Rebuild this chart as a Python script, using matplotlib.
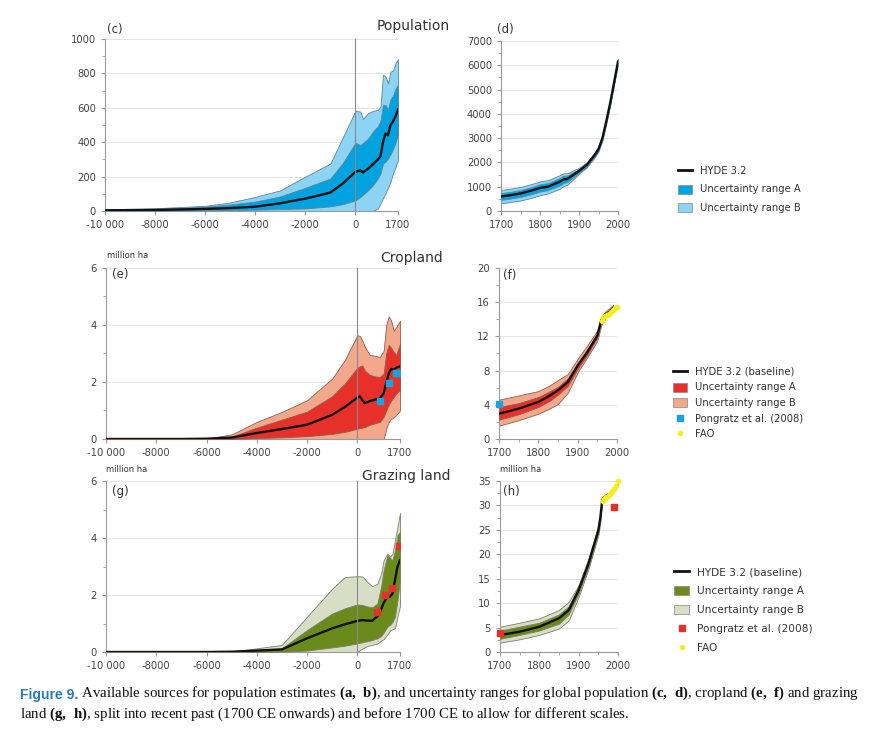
import matplotlib
matplotlib.use("Agg")
import matplotlib.pyplot as plt
from matplotlib.lines import Line2D
from matplotlib.patches import Patch
from matplotlib.ticker import MultipleLocator, FixedLocator

plt.rcParams['font.family'] = ['DejaVu Sans']
plt.rcParams['mathtext.fontset'] = 'custom'
plt.rcParams['mathtext.rm'] = 'Liberation Serif'
plt.rcParams['mathtext.bf'] = 'Liberation Serif:bold'

# ---- population, before 1700 (c) ----
yrs_c = [-10000, -8000, -6000, -5000, -4000, -3000, -2000, -1000, -500, 0, 200, 300,
         500, 700, 900, 1000, 1100, 1200, 1300, 1400, 1500, 1600, 1700]
pop_mid = [4, 6, 12, 17, 25, 45, 72, 107, 160, 228, 237, 224,
           245, 272, 300, 318, 400, 450, 440, 500, 520, 550, 590]
pop_a_lo = [1, 2, 4, 5, 8, 11, 15, 27, 40, 62, 82, 95,
            120, 150, 190, 218, 276, 286, 305, 330, 360, 395, 450]
pop_a_hi = [8, 12, 25, 38, 55, 85, 135, 189, 280, 397, 383, 395,
            420, 461, 494, 525, 617, 617, 590, 650, 670, 710, 735]
pop_b_lo = [0, 0, 0, 0, 0, 0, 0, 0, 0, 0, 0, 0,
            0, 0, 15, 43, 75, 101, 135, 170, 218, 257, 296]
pop_b_hi = [10, 16, 30, 50, 82, 120, 200, 276, 430, 582, 578, 535,
            568, 582, 588, 607, 792, 782, 743, 811, 815, 860, 883]

# ---- population, 1700 onwards (d) ----
yrs_d = [1700, 1720, 1750, 1780, 1800, 1820, 1850, 1860, 1870, 1900, 1920, 1940,
         1950, 1960, 1970, 1980, 1990, 2000]
popr_mid = [600, 640, 720, 850, 950, 1000, 1200, 1300, 1320, 1650, 1900, 2300,
            2550, 3000, 3700, 4450, 5300, 6150]
popr_a_lo = [460, 500, 580, 700, 800, 860, 1050, 1150, 1190, 1580, 1840, 2240,
             2490, 2940, 3640, 4390, 5240, 6090]
popr_a_hi = [740, 780, 860, 990, 1100, 1150, 1350, 1450, 1460, 1720, 1960, 2360,
             2610, 3060, 3760, 4510, 5360, 6210]
popr_b_lo = [310, 360, 430, 550, 650, 720, 910, 1020, 1080, 1530, 1800, 2200,
             2450, 2900, 3600, 4350, 5200, 6050]
popr_b_hi = [870, 910, 990, 1120, 1220, 1270, 1470, 1550, 1550, 1780, 2010, 2410,
             2660, 3110, 3810, 4560, 5410, 6260]

# ---- cropland, before 1700 (e) ----
yrs_e = [-10000, -7000, -6000, -5000, -4000, -3000, -2000, -1000, -500, 0, 100, 200,
         300, 500, 700, 900, 1050, 1150, 1250, 1350, 1450, 1550, 1700]
crop_mid = [0, 0, 0.01, 0.05, 0.21, 0.35, 0.5, 0.85, 1.12, 1.45, 1.5, 1.36,
            1.26, 1.33, 1.38, 1.42, 1.6, 1.95, 2.3, 2.46, 2.43, 2.5, 2.55]
crop_a_lo = [0, 0, 0, 0, 0.03, 0.06, 0.1, 0.18, 0.25, 0.36, 0.38, 0.4,
             0.42, 0.5, 0.55, 0.6, 0.78, 1.0, 1.2, 1.35, 1.47, 1.6, 1.72]
crop_a_hi = [0, 0, 0.01, 0.08, 0.4, 0.68, 0.96, 1.5, 1.94, 2.5, 2.55, 2.58,
             2.4, 2.25, 2.2, 2.17, 2.3, 3.0, 3.3, 3.2, 3.05, 2.95, 3.34]
crop_b_lo = [0, 0, 0, 0, 0, 0, 0, 0, 0, 0, 0, 0,
             0, 0, 0, 0, 0, 0.35, 0.6, 0.71, 0.76, 0.84, 1.0]
crop_b_hi = [0, 0, 0.02, 0.16, 0.6, 0.95, 1.36, 2.12, 2.77, 3.64, 3.62, 3.45,
             3.23, 2.95, 2.92, 2.88, 3.1, 4.0, 4.3, 4.15, 3.8, 3.93, 4.15]
crop_pong_yr = [900, 1250, 1550, 1600]
crop_pong = [1.35, 1.95, 2.32, 2.32]

# ---- cropland, 1700 onwards (f) ----
yrs_f = [1700, 1750, 1800, 1830, 1850, 1875, 1900, 1925, 1950, 1960, 1970, 1980, 1990]
cropr_mid = [2.96, 3.55, 4.33, 5.1, 5.7, 6.67, 8.6, 10.2, 12.1, 13.9, 14.5, 14.85, 15.3]
cropr_a_lo = [2.26, 2.9, 3.74, 4.5, 5.2, 6.2, 8.2, 9.9, 11.9, 13.7, 14.3, 14.65, 15.1]
cropr_a_hi = [3.74, 4.2, 4.9, 5.6, 6.1, 7.1, 8.8, 10.5, 12.3, 14.1, 14.7, 15.05, 15.5]
cropr_b_lo = [1.56, 2.2, 2.96, 3.6, 4.1, 5.4, 7.8, 9.6, 11.5, 13.3, 14.1, 14.45, 14.9]
cropr_b_hi = [4.6, 5.1, 5.6, 6.3, 6.9, 7.6, 9.4, 11.0, 12.7, 14.3, 14.9, 15.25, 15.7]
cropr_pong_yr = [1700]
cropr_pong = [4.05]
fao_yr = [1961, 1965, 1970, 1975, 1980, 1985, 1990, 1995, 2000]
fao_crop = [13.8, 14.3, 14.4, 14.5, 14.6, 14.9, 15.1, 15.3, 15.4]

# ---- grazing land, before 1700 (g) ----
yrs_g = [-10000, -6000, -5000, -4000, -3000, -2000, -1000, -500, 0, 200, 400,
         600, 800, 950, 1050, 1200, 1300, 1400, 1500, 1600, 1700]
graz_mid = [0, 0, 0.01, 0.05, 0.09, 0.48, 0.83, 0.97, 1.09, 1.12, 1.1,
            1.1, 1.25, 1.5, 1.72, 1.94, 1.94, 2.05, 2.52, 2.99, 3.22]
graz_a_lo = [0, 0, 0, 0, 0.01, 0.05, 0.16, 0.22, 0.3, 0.34, 0.38,
             0.42, 0.48, 0.56, 0.68, 0.89, 0.95, 1.05, 1.24, 1.82, 2.52]
graz_a_hi = [0, 0, 0.01, 0.07, 0.13, 0.77, 1.35, 1.53, 1.67, 1.65, 1.6,
             1.57, 1.7, 2.3, 2.87, 3.4, 3.3, 3.22, 3.57, 4.1, 4.21]
graz_b_lo = [0, 0, 0, 0, 0, 0, 0, 0, 0, 0.12, 0.21,
             0.25, 0.3, 0.4, 0.45, 0.62, 0.75, 0.8, 0.84, 1.24, 1.62]
graz_b_hi = [0, 0, 0.01, 0.13, 0.25, 1.24, 2.22, 2.63, 2.66, 2.65, 2.46,
             2.31, 2.4, 2.75, 3.22, 3.46, 3.34, 3.45, 3.93, 4.4, 4.88]
graz_pong_yr = [800, 1100, 1400, 1670]
graz_pong = [1.39, 2.0, 2.26, 3.71]

# ---- grazing land, 1700 onwards (h) ----
yrs_h = [1700, 1750, 1800, 1850, 1875, 1900, 1925, 1950, 1955, 1960, 1970, 1980, 1990, 2000]
grazr_mid = [3.47, 4.15, 5.17, 6.9, 8.6, 12.7, 18.1, 24.9, 27.5, 31.2, 32.0, 32.4, 33.2, 34.3]
grazr_a_lo = [2.7, 3.5, 4.4, 5.8, 7.7, 12.0, 17.5, 24.4, 27.0, 30.9, 31.8, 32.2, 33.0, 34.1]
grazr_a_hi = [4.4, 5.2, 6.0, 7.7, 9.4, 13.3, 18.7, 25.4, 28.0, 31.5, 32.2, 32.6, 33.4, 34.5]
grazr_b_lo = [1.9, 2.6, 3.5, 4.8, 6.5, 11.3, 17.0, 23.9, 26.5, 30.7, 31.7, 32.1, 32.9, 34.0]
grazr_b_hi = [5.17, 6.0, 6.9, 8.6, 10.3, 13.7, 19.2, 25.9, 28.5, 31.7, 32.3, 32.7, 33.5, 34.6]
grazr_pong_yr = [1700, 1990]
grazr_pong = [3.8, 29.7]
fao_graz = [31.0, 31.3, 31.8, 32.0, 32.4, 33.0, 33.4, 34.0, 35.1]

# colours
POP = ("#00a2e0", "#8dd3f3", "#5f8598")
CROP = ("#e8302a", "#f3a88c", "#8d5e50")
GRAZ = ("#6b8a1c", "#d8dec6", "#7d7d6e")
PONG_BLUE = "#1aa3e0"
PONG_RED = "#e8302a"
FAO_YEL = "#f5ee1f"
TXT = "#444444"

W, H = 869, 731
fig = plt.figure(figsize=(W / 100, H / 100), dpi=100)


def box(l, t, r, b):
    return [l / W, 1 - b / H, (r - l) / W, (b - t) / H]


def style(ax, ymax, ymaj, ymin):
    for s in ("top", "right"):
        ax.spines[s].set_visible(False)
    for s in ("left", "bottom"):
        ax.spines[s].set_color("#9a9a9a")
        ax.spines[s].set_linewidth(0.8)
    ax.set_ylim(0, ymax)
    ax.yaxis.set_major_locator(MultipleLocator(ymaj))
    ax.yaxis.set_minor_locator(MultipleLocator(ymin))
    ax.tick_params(axis="both", which="both", colors="#9a9a9a", labelcolor=TXT,
                   labelsize=7.2, direction="out")
    ax.tick_params(which="major", length=3)
    ax.tick_params(which="minor", length=2)
    ax.grid(axis="y", which="major", color="#e4e4e4", linewidth=0.7)
    ax.set_axisbelow(True)


def bands(ax, x, b_lo, b_hi, a_lo, a_hi, mid, cols):
    ax.fill_between(x, b_lo, b_hi, facecolor=cols[1], edgecolor=cols[2], linewidth=0.6, zorder=2)
    ax.fill_between(x, a_lo, a_hi, facecolor=cols[0], edgecolor=cols[2], linewidth=0.6, zorder=3)
    ax.plot(x, mid, color="#111111", linewidth=1.7, zorder=4)


def early_axis(ax):
    ax.set_xlim(-10000, 1700)
    ax.xaxis.set_major_locator(FixedLocator([-10000, -8000, -6000, -4000, -2000, 0, 1700]))
    ax.set_xticklabels(["-10 000", "-8000", "-6000", "-4000", "-2000", "0", "1700"])
    ax.axvline(0, color="#8a8a8a", linewidth=0.8, zorder=5)


def late_axis(ax):
    ax.set_xlim(1700, 2000)
    ax.xaxis.set_major_locator(MultipleLocator(100))
    ax.xaxis.set_minor_locator(MultipleLocator(50))


# (c)
ax_c = fig.add_axes(box(105, 39, 398, 211))
style(ax_c, 1000, 200, 100)
bands(ax_c, yrs_c, pop_b_lo, pop_b_hi, pop_a_lo, pop_a_hi, pop_mid, POP)
early_axis(ax_c)

# (d)
ax_d = fig.add_axes(box(501, 41, 618, 211))
style(ax_d, 7000, 1000, 500)
bands(ax_d, yrs_d, popr_b_lo, popr_b_hi, popr_a_lo, popr_a_hi, popr_mid, POP)
late_axis(ax_d)

# (e)
ax_e = fig.add_axes(box(106, 268, 400, 439))
style(ax_e, 6, 2, 1)
bands(ax_e, yrs_e, crop_b_lo, crop_b_hi, crop_a_lo, crop_a_hi, crop_mid, CROP)
ax_e.scatter(crop_pong_yr, crop_pong, marker="s", s=22, color=PONG_BLUE, zorder=6)
early_axis(ax_e)

# (f)
ax_f = fig.add_axes(box(499, 268, 617, 439))
style(ax_f, 20, 4, 2)
bands(ax_f, yrs_f, cropr_b_lo, cropr_b_hi, cropr_a_lo, cropr_a_hi, cropr_mid, CROP)
ax_f.scatter(cropr_pong_yr, cropr_pong, marker="s", s=22, color=PONG_BLUE, zorder=6, clip_on=False)
ax_f.scatter(fao_yr, fao_crop, marker="o", s=9, color=FAO_YEL, zorder=7, clip_on=False)
late_axis(ax_f)

# (g)
ax_g = fig.add_axes(box(106, 481, 400, 652))
style(ax_g, 6, 2, 1)
bands(ax_g, yrs_g, graz_b_lo, graz_b_hi, graz_a_lo, graz_a_hi, graz_mid, GRAZ)
ax_g.scatter(graz_pong_yr, graz_pong, marker="s", s=22, color=PONG_RED, zorder=6)
early_axis(ax_g)

# (h)
ax_h = fig.add_axes(box(500, 481, 618, 652))
style(ax_h, 35, 5, 2.5)
bands(ax_h, yrs_h, grazr_b_lo, grazr_b_hi, grazr_a_lo, grazr_a_hi, grazr_mid, GRAZ)
ax_h.scatter(grazr_pong_yr, grazr_pong, marker="s", s=22, color=PONG_RED, zorder=6, clip_on=False)
ax_h.scatter(fao_yr, fao_graz, marker="o", s=9, color=FAO_YEL, zorder=7, clip_on=False)
late_axis(ax_h)

# panel letters, titles, units
def ftext(x, y, s, **kw):
    fig.text(x / W, 1 - y / H, s, va="center", color="#333333", **kw)

ftext(107, 29, "(c)", fontsize=8.5)
ftext(497, 29, "(d)", fontsize=8.5)
ftext(112, 274, "(e)", fontsize=8.5)
ftext(503, 275, "(f)", fontsize=8.5)
ftext(112, 492, "(g)", fontsize=8.5)
ftext(503, 492, "(h)", fontsize=8.5)
ftext(450, 26, "Population", fontsize=10, ha="right")
ftext(443, 258, "Cropland", fontsize=10, ha="right")
ftext(450, 476, "Grazing land", fontsize=10, ha="right")
ftext(107, 256, "million ha", fontsize=6)
ftext(106, 469, "million ha", fontsize=6)
ftext(500, 469, "million ha", fontsize=6)


def make_legend(cols, pong_col, x, y, first, size=7.2, gap=0.55):
    handles = [Line2D([], [], color="#111111", lw=2),
               Patch(facecolor=cols[0], edgecolor="#888888", lw=0.5),
               Patch(facecolor=cols[1], edgecolor="#888888", lw=0.5)]
    labels = [first, "Uncertainty range A", "Uncertainty range B"]
    if pong_col:
        handles += [Line2D([], [], ls="none", marker="s", ms=4.5, color=pong_col),
                    Line2D([], [], ls="none", marker="o", ms=3, color=FAO_YEL)]
        labels += ["Pongratz et al. (2008)", "FAO"]
    leg = fig.legend(handles, labels, loc="upper left", bbox_to_anchor=(x / W, 1 - y / H),
                     frameon=False, fontsize=size, handlelength=1.4, handleheight=1.0,
                     labelspacing=gap, handletextpad=0.8, borderaxespad=0)
    for t in leg.get_texts():
        t.set_color("#333333")


make_legend(POP, None, 674, 162, "HYDE 3.2", gap=0.85)
make_legend(CROP, PONG_BLUE, 669, 363, "HYDE 3.2 (baseline)")
make_legend(GRAZ, PONG_RED, 670, 563, "HYDE 3.2 (baseline)", size=7.6, gap=0.8)

# caption
cap = fig.add_axes([0, 0, 1, 1])
cap.axis("off")
t1 = cap.text(20 / W, 1 - 699 / H, "Figure 9.", color="#2a7ab8", fontsize=10,
              fontweight="bold", family="Liberation Sans", va="baseline")
cap.annotate(r" Available sources for population estimates $\mathbf{(a,\ b)}$, and uncertainty "
             r"ranges for global population $\mathbf{(c,\ d)}$, cropland $\mathbf{(e,\ f)}$ and grazing",
             xy=(1, 0), xycoords=t1, va="bottom", fontsize=10.7, family="Liberation Serif",
             color="#111111")
cap.text(20 / W, 1 - 718 / H,
         r"land $\mathbf{(g,\ h)}$, split into recent past (1700 CE onwards) and before 1700 CE "
         r"to allow for different scales.",
         fontsize=10.7, family="Liberation Serif", color="#111111", va="baseline")

fig.savefig("out.png", dpi=100)
